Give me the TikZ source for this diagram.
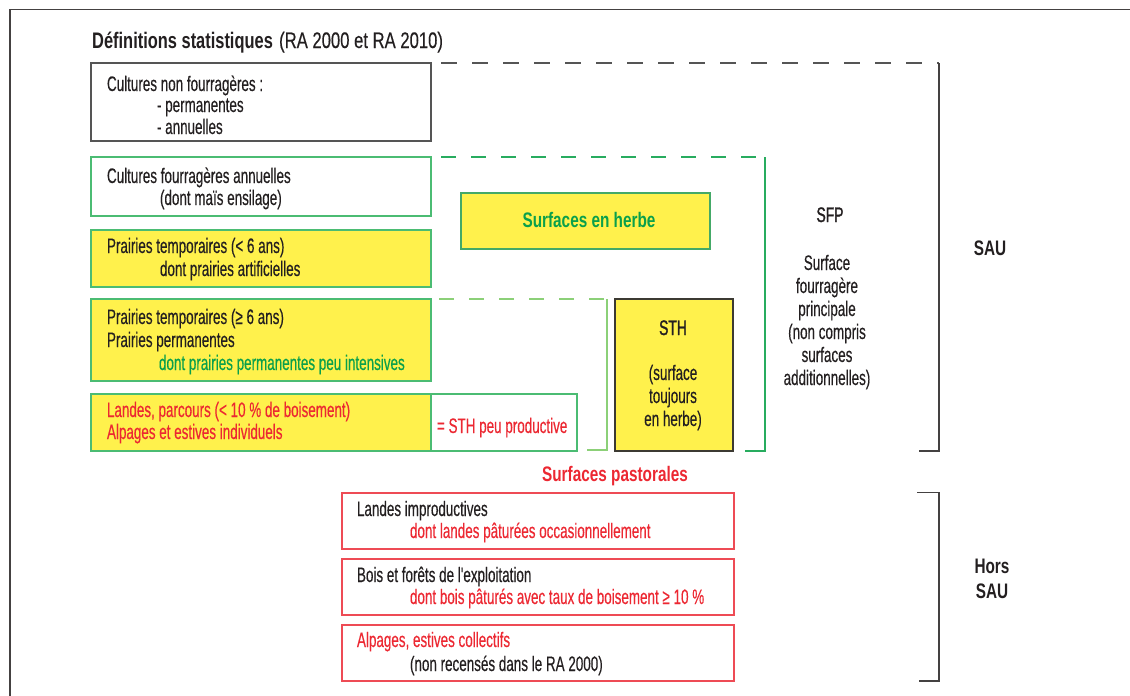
\documentclass[tikz,border=0pt]{standalone}
\usepackage{fontspec}
\setmainfont{Liberation Sans}
\newfontfamily\cond[FakeStretch=0.64,FakeBold=0.35]{Liberation Sans}
\newfontfamily\condmed[FakeStretch=0.66,FakeBold=1.3]{Liberation Sans}
\newfontfamily\condwide[FakeStretch=0.74,FakeBold=0.35]{Liberation Sans}
\newfontfamily\condb[FakeStretch=0.73]{Liberation Sans}
\usetikzlibrary{fit}
\definecolor{ylw}{RGB}{255,241,76}
\definecolor{ink}{RGB}{35,31,32}
\definecolor{grayline}{RGB}{85,85,85}
\definecolor{gbord}{RGB}{75,188,115}
\definecolor{gtext}{RGB}{10,160,75}
\definecolor{gdash}{RGB}{40,172,95}
\definecolor{lgreen}{RGB}{140,208,120}
\definecolor{rtext}{RGB}{236,40,50}
\definecolor{rbord}{RGB}{238,75,85}
\definecolor{darkb}{RGB}{60,58,50}
\tikzset{
  box/.style={draw, line width=1.2pt, inner sep=0pt, outer sep=0pt, rectangle},
  txt/.style={anchor=base west, inner sep=0pt, outer sep=0pt, text=ink, font=\cond\fontsize{21}{22}\selectfont},
  ctxt/.style={anchor=base, inner sep=0pt, outer sep=0pt, text=ink, font=\cond\fontsize{21}{22}\selectfont},
  mtxt/.style={anchor=base, inner sep=0pt, outer sep=0pt, text=ink, font=\condmed\fontsize{21}{22}\selectfont},
  btxt/.style={anchor=base, inner sep=0pt, outer sep=0pt, text=ink, font=\condb\bfseries\fontsize{21}{22}\selectfont},
  graydash/.style={draw=grayline, line width=1.2pt, dash pattern=on 16pt off 15pt},
  greendash/.style={draw=gdash, line width=1.2pt, dash pattern=on 15pt off 15pt},
  lgdash/.style={draw=lgreen, line width=1.2pt, dash pattern=on 15pt off 15pt},
  bracket/.style={line width=1.3pt}
}
\begin{document}
\begin{tikzpicture}[x=1pt,y=-1pt]
\useasboundingbox (0,0) rectangle (1130,696);
% outer frame
\coordinate (frTL) at (10,9.5);
\coordinate (frTR) at (1130,9.5);
\coordinate (frBL) at (10,696);
\draw[line width=1.6pt, draw=ink!85] (frBL) -- (frTL) -- (frTR);

% title
\node[anchor=base west, inner sep=0pt, text=ink] (title) at (92,48)
  {\fontsize{22.5}{24}\selectfont{\condb\bfseries Définitions statistiques} {\condwide (RA 2000 et RA 2010)}};

% box A
\node[box, draw=grayline, fit={(91,63) (431,141)}] (A) {};
\node[txt] (a1) at (107,91) {Cultures non fourragères :};
\node[txt] (a2) at (157,112) {- permanentes};
\node[txt] (a3) at (157,134) {- annuelles};

% box B
\node[box, draw=gbord, fill=white, fit={(91,157) (431,216)}] (B) {};
\node[txt] (b1) at (107,183) {Cultures fourragères annuelles};
\node[txt] (b2) at (160,205) {(dont maïs ensilage)};

% box C
\node[box, draw=gbord, fill=ylw, fit={(91,230) (431,287)}] (C) {};
\node[txt] (c1) at (107,253) {Prairies temporaires (< 6 ans)};
\node[txt] (c2) at (160,276) {dont prairies artificielles};

% box D
\node[box, draw=gbord, fill=ylw, fit={(91,299) (431,381)}] (D) {};
\node[txt] (d1) at (107,324) {Prairies temporaires (≥ 6 ans)};
\node[txt] (d2) at (107,347) {Prairies permanentes};
\node[txt, text=gtext] (d3) at (159,370) {dont prairies permanentes peu intensives};

% box E
\node[box, draw=gbord, fill=ylw, fit={(91,394) (431,451)}] (E) {};
\node[box, draw=gbord, fill=white, fit={(431,394) (577,451)}] (E2) {};
\node[txt, text=rtext] (e1) at (107,417) {Landes, parcours (< 10 \% de boisement)};
\node[txt, text=rtext] (e2) at (107,439) {Alpages et estives individuels};
\node[txt, text=rtext] (e3) at (437,433) {= STH peu productive};

% surfaces en herbe
\node[box, draw=gbord!90!black, fill=ylw, fit={(461,193) (710,249)}] (SH) {};
\node[btxt, text=gtext] (sht) at (589,227) {Surfaces en herbe};

% STH box
\node[box, draw=darkb, fill=ylw, fit={(615,299) (733,451)}] (STH) {};
\node[mtxt] (s1) at (673,335) {STH};
\node[ctxt] (s2) at (673,380) {(surface};
\node[ctxt] (s3) at (673,403) {toujours};
\node[ctxt] (s4) at (673,426) {en herbe)};

% SFP text
\node[mtxt] (f0) at (830,222) {SFP};
\node[ctxt] (f1) at (827,270) {Surface};
\node[ctxt] (f2) at (827,293) {fourragère};
\node[ctxt] (f3) at (827,316) {principale};
\node[ctxt] (f4) at (827,339) {(non compris};
\node[ctxt] (f5) at (827,362) {surfaces};
\node[ctxt] (f6) at (827,385) {additionnelles)};

% SAU bracket
\coordinate (sauTop) at (939,63);
\coordinate (sauBot) at (939,451);
\coordinate (sauEnd) at (919,451);
\draw[graydash] ([xshift=10pt]A.north east) -- (sauTop);
\draw[bracket, draw=ink!85] (sauTop) -- (sauBot) -- (sauEnd);
\node[btxt] (sau) at (990,255) {SAU};

% SFP bracket
\coordinate (sfpTop) at (765,157);
\coordinate (sfpBot) at (765,451);
\coordinate (sfpEnd) at (745,451);
\draw[greendash] ([xshift=10pt]B.north east) -- (sfpTop);
\draw[line width=1.5pt, draw=gdash] (sfpTop) -- (sfpBot) -- (sfpEnd);

% STH bracket
\coordinate (sthTop) at (607,299);
\coordinate (sthBot) at (607,450);
\coordinate (sthEnd) at (587,450);
\draw[lgdash] ([xshift=8pt]D.north east) -- (sthTop);
\draw[bracket, draw=lgreen] (sthTop) -- (sthBot) -- (sthEnd);

% surfaces pastorales
\node[btxt, text=rtext] (past) at (615,481) {Surfaces pastorales};

\node[box, draw=rbord, fit={(342,493) (734,549)}] (F) {};
\node[txt] (g1) at (357,516) {Landes improductives};
\node[txt, text=rtext] (g2) at (410,538) {dont landes pâturées occasionnellement};

\node[box, draw=rbord, fit={(342,559) (734,615)}] (G) {};
\node[txt] (h1) at (357,582) {Bois et forêts de l'exploitation};
\node[txt, text=rtext] (h2) at (410,604) {dont bois pâturés avec taux de boisement ≥ 10 \%};

\node[box, draw=rbord, fit={(342,625) (734,681)}] (H) {};
\node[txt, text=rtext] (i1) at (357,647) {Alpages, estives collectifs};
\node[txt] (i2) at (410,671) {(non recensés dans le RA 2000)};

% Hors SAU bracket
\coordinate (hsTop0) at (917,492.5);
\coordinate (hsTop) at (939,492.5);
\coordinate (hsBot) at (939,681);
\coordinate (hsEnd) at (919,681);
\draw[bracket, draw=ink!85] (hsTop0) -- (hsTop) -- (hsBot) -- (hsEnd);
\node[btxt] (hs1) at (992,573) {Hors};
\node[btxt] (hs2) at (992,598) {SAU};
\end{tikzpicture}
\end{document}
